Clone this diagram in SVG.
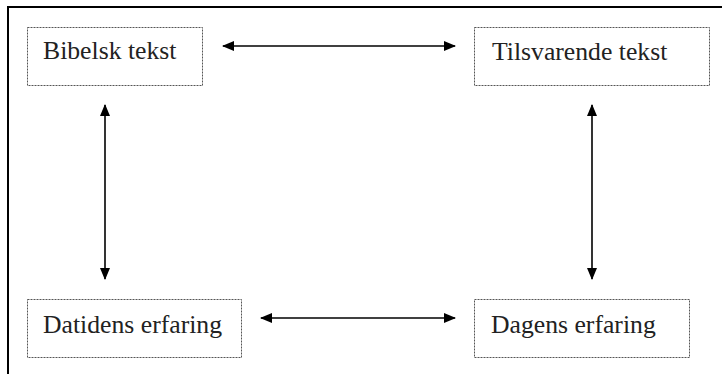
<svg xmlns="http://www.w3.org/2000/svg" width="722" height="374" viewBox="0 0 722 374">
<style>
.box{fill:#fff;stroke:#555;stroke-width:1;stroke-dasharray:2 1}
.lbl{font-family:"Liberation Serif","Times New Roman",serif;font-size:25.7px;fill:#222}
.conn{stroke:#000;stroke-width:1.6;fill:none;marker-start:url(#ah);marker-end:url(#ah)}
</style>
<defs>
<marker id="ah" viewBox="0 0 12 10" refX="11" refY="5" markerWidth="12" markerHeight="10" markerUnits="userSpaceOnUse" orient="auto-start-reverse">
<path d="M0,0 L12,5 L0,10 Z" fill="#000"/>
</marker>
</defs>
<rect width="722" height="374" fill="#fff"/>
<path d="M8,374 V7 H722" fill="none" stroke="#000" stroke-width="2"/>
<g id="bibelsk">
<rect class="box" x="27.5" y="27.5" width="175" height="58"/>
<text class="lbl" x="43" y="59">Bibelsk tekst</text>
</g>
<g id="tilsvarende">
<rect class="box" x="474.5" y="27.5" width="235" height="58"/>
<text class="lbl" x="492" y="60">Tilsvarende tekst</text>
</g>
<g id="datidens">
<rect class="box" x="27.5" y="299.5" width="214" height="58"/>
<text class="lbl" x="43" y="333">Datidens erfaring</text>
</g>
<g id="dagens">
<rect class="box" x="474.5" y="299.5" width="215" height="58"/>
<text class="lbl" x="491" y="333">Dagens erfaring</text>
</g>
<g id="connectors">
<line class="conn" x1="223" y1="46" x2="455" y2="46"/>
<line class="conn" x1="261" y1="318" x2="455" y2="318"/>
<line class="conn" x1="105" y1="105" x2="105" y2="279"/>
<line class="conn" x1="592" y1="105" x2="592" y2="279"/>
</g>
</svg>
